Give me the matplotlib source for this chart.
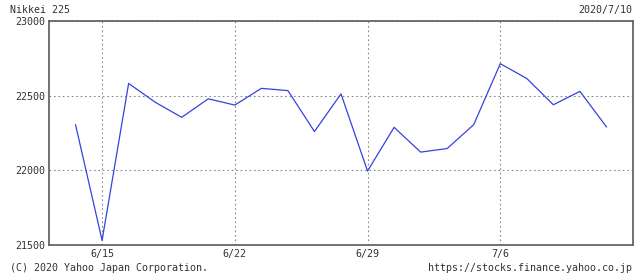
import matplotlib
matplotlib.use("Agg")
import matplotlib.pyplot as plt

# Nikkei 225 closes, trading days 6/12 .. 7/10
dates = ["6/12", "6/15", "6/16", "6/17", "6/18", "6/19",
         "6/22", "6/23", "6/24", "6/25", "6/26",
         "6/29", "6/30", "7/1", "7/2", "7/3",
         "7/6", "7/7", "7/8", "7/9", "7/10"]
closes = [22305, 21531, 22582, 22456, 22355, 22479,
          22437, 22549, 22534, 22260, 22512,
          21995, 22288, 22122, 22146, 22306,
          22714, 22615, 22439, 22529, 22291]
tick_dates = ["6/15", "6/22", "6/29", "7/6"]
yticks = [21500, 22000, 22500, 23000]

W, H = 638, 277
fig = plt.figure(figsize=(W / 100, H / 100), dpi=100)
ax = fig.add_axes([49 / W, (H - 245) / H, (633 - 49) / W, (245 - 21) / H])

x = list(range(len(dates)))
ax.plot(x, closes, color="#3344dd", lw=0.9)

ax.set_xlim(-1, len(dates))
ax.set_ylim(21500, 23000)
ax.set_xticks([dates.index(d) for d in tick_dates])
ax.set_xticklabels(tick_dates)
ax.set_yticks(yticks)
ax.set_yticklabels([str(v) for v in yticks])
ax.tick_params(length=0, labelsize=7.2, colors="#333333", pad=3)
for lab in ax.get_xticklabels() + ax.get_yticklabels():
    lab.set_family("DejaVu Sans Mono")
ax.grid(True, color="#888888", linestyle=(0, (1.5, 2.5)), lw=0.8)
for s in ax.spines.values():
    s.set_color("#666666")
    s.set_linewidth(1.3)

mono = "DejaVu Sans Mono"
fs = 7.2
fig.text(10 / W, 1 - 10 / H, "Nikkei 225", ha="left", va="center",
         fontsize=fs, family=mono, color="#333333")
fig.text(632 / W, 1 - 10 / H, "2020/7/10", ha="right", va="center",
         fontsize=fs, family=mono, color="#333333")
fig.text(10 / W, 1 - 268 / H, "(C) 2020 Yahoo Japan Corporation.", ha="left",
         va="center", fontsize=fs, family=mono, color="#333333")
fig.text(632 / W, 1 - 268 / H, "https://stocks.finance.yahoo.co.jp", ha="right",
         va="center", fontsize=fs, family=mono, color="#333333")

fig.savefig("out.png", dpi=100)
